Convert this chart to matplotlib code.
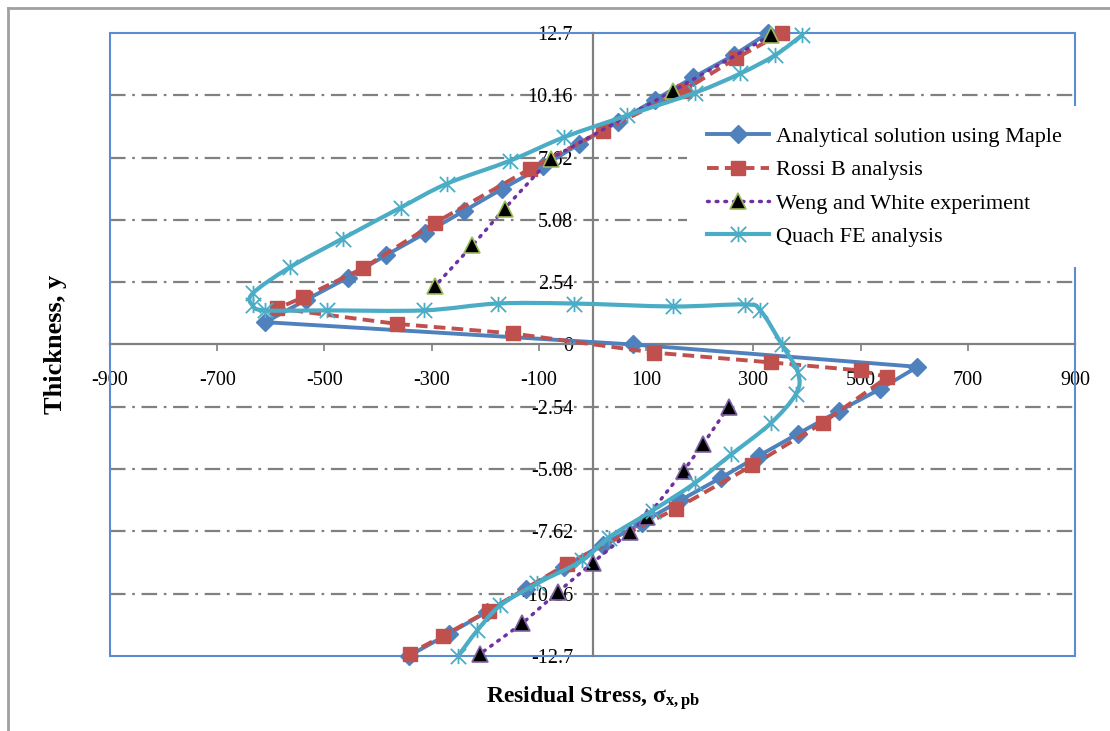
import numpy as np
import matplotlib
matplotlib.use("Agg")
import matplotlib.pyplot as plt
from matplotlib.path import Path
from matplotlib.patches import PathPatch, Rectangle
from matplotlib.lines import Line2D

# ---- data ----
# Analytical solution using Maple
maple_x = [328, 263, 188, 117, 47, -26, -93, -168, -240, -312, -386, -457, -535, -610,
           75, 606, 537, 459, 384, 310, 239, 164, 93, 19, -54, -125, -196, -268, -343]
maple_y = [12.7, 11.79, 10.89, 9.98, 9.07, 8.16, 7.26, 6.35, 5.44, 4.54, 3.63, 2.72, 1.81, 0.91,
           0.0, -0.91, -1.81, -2.72, -3.63, -4.54, -5.44, -6.35, -7.26, -8.16, -9.07, -9.98,
           -10.89, -11.79, -12.7]

# Rossi B analysis
rossi_x = [354, 267, 170, 19, -116, -293, -429, -540, -588, -365, -149, 114, 332, 500, 550,
           429, 298, 155, -47, -194, -278, -341]
rossi_y = [12.7, 11.66, 10.35, 8.72, 7.17, 4.97, 3.1, 1.92, 1.47, 0.84, 0.45, -0.33, -0.73,
           -1.06, -1.33, -3.2, -4.93, -6.7, -8.94, -10.85, -11.87, -12.6]

# Weng and White experiment (upper / lower half)
weng_top_x = [332, 151, -78, -164, -224, -293]
weng_top_y = [12.6, 10.35, 7.58, 5.54, 4.04, 2.4]
weng_bot_x = [254, 207, 170, 101, 69, 0, -65, -131, -209]
weng_bot_y = [-2.53, -4.04, -5.14, -7.05, -7.66, -8.9, -10.1, -11.37, -12.6]

# Quach FE analysis
quach_x = [390, 341, 276, 192, 65, -54, -153, -271, -358, -466, -565, -634, -634, -610,
           -495, -315, -177, -35, 151, 284, 313, 353, 383, 380, 332, 259, 192, 112, 30,
           -19, -103, -172, -215, -250]
quach_y = [12.6, 11.8, 11.05, 10.27, 9.34, 8.44, 7.5, 6.56, 5.58, 4.32, 3.14, 2.08, 1.59,
           1.39, 1.39, 1.39, 1.67, 1.67, 1.55, 1.63, 1.39, 0.0, -1.14, -2.0, -3.22, -4.48,
           -5.63, -6.77, -7.87, -8.8, -9.74, -10.64, -11.66, -12.68]

x_ticks = [-900, -700, -500, -300, -100, 100, 300, 500, 700, 900]
y_ticks = [-12.7, -10.16, -7.62, -5.08, -2.54, 0, 2.54, 5.08, 7.62, 10.16, 12.7]
y_tick_labels = ["-12.7", "-10.16", "-7.62", "-5.08", "-2.54", "0", "2.54", "5.08",
                 "7.62", "10.16", "12.7"]

BLUE = "#4F81BD"
RED = "#C0504D"
PURPLE = "#7030A0"
CYAN = "#4BACC6"
GRID = "#808080"

plt.rcParams["font.family"] = ["Liberation Serif", "DejaVu Serif"]
plt.rcParams["mathtext.fontset"] = "custom"
plt.rcParams["mathtext.rm"] = "Liberation Serif"
plt.rcParams["mathtext.it"] = "Liberation Serif"
plt.rcParams["mathtext.bf"] = "Liberation Serif:bold"

# Excel style star marker: vertical bar plus an X
star = Path([(0, -1), (0, 1), (-1, -1), (1, 1), (-1, 1), (1, -1)],
            [Path.MOVETO, Path.LINETO, Path.MOVETO, Path.LINETO, Path.MOVETO, Path.LINETO])


def smooth_path(xs, ys):
    # Catmull-Rom style bezier like Excel's smoothed line
    pts = np.column_stack([xs, ys]).astype(float)
    verts = [pts[0]]
    codes = [Path.MOVETO]
    n = len(pts)
    for i in range(n - 1):
        p0 = pts[i - 1] if i > 0 else pts[i]
        p1 = pts[i]
        p2 = pts[i + 1]
        p3 = pts[i + 2] if i + 2 < n else pts[i + 1]
        c1 = p1 + (p2 - p0) / 6.0
        c2 = p2 - (p3 - p1) / 6.0
        verts += [c1, c2, p2]
        codes += [Path.CURVE4] * 3
    return Path(verts, codes)


fig = plt.figure(figsize=(11.1, 7.31), dpi=100)
ax = fig.add_axes([0.0991, 0.1026, 0.8694, 0.8523])
ax.set_xlim(-900, 900)
ax.set_ylim(-12.7, 12.7)

# outer chart border (left and top visible)
fig.add_artist(Line2D([0.0072, 0.0072], [0, 0.989], transform=fig.transFigure,
                      color="#A0A0A0", lw=2))
fig.add_artist(Line2D([0.0072, 1.0], [0.989, 0.989], transform=fig.transFigure,
                      color="#A0A0A0", lw=2))

# gridlines
for yv in [-10.16, -7.62, -5.08, -2.54, 2.54, 5.08, 7.62, 10.16]:
    ax.axhline(yv, color=GRID, lw=1.6, ls=(0, (7, 3, 1.2, 3)), zorder=1)

# spines through the origin
for s in ["top", "right"]:
    ax.spines[s].set_visible(False)
ax.spines["left"].set_position("zero")
ax.spines["bottom"].set_position("zero")
ax.spines["left"].set_color("#808080")
ax.spines["bottom"].set_color("#808080")
ax.spines["left"].set_linewidth(1.6)
ax.spines["bottom"].set_linewidth(1.6)
ax.add_patch(Rectangle((0, 0), 1, 1, transform=ax.transAxes, fill=False,
                       edgecolor="#5B8BD0", lw=1.5, zorder=2, clip_on=False))

ax.set_xticks(x_ticks)
ax.set_xticklabels([str(v) for v in x_ticks])
ax.set_yticks(y_ticks)
ax.set_yticklabels(y_tick_labels)
ax.tick_params(axis="x", direction="out", length=5, width=1.2, color="#808080",
               labelsize=14.5, pad=14)
ax.tick_params(axis="y", direction="out", length=5, width=1.2, color="#808080",
               labelsize=14.5, pad=9)
for lab in ax.get_yticklabels():
    lab.set_verticalalignment("center_baseline")

# series
ax.plot(maple_x, maple_y, color=BLUE, lw=2.8, marker="D", ms=9, mfc=BLUE, mec=BLUE,
        zorder=5, clip_on=False)
ax.plot(rossi_x, rossi_y, color=RED, lw=2.8, ls=(0, (3, 1.6)), marker="s", ms=10,
        mfc=RED, mec=RED, zorder=6, clip_on=False)
ax.plot(weng_top_x, weng_top_y, color=PURPLE, lw=2.5, ls=(0, (0.5, 2)),
        dash_capstyle="round", zorder=7)
ax.plot(weng_bot_x, weng_bot_y, color=PURPLE, lw=2.5, ls=(0, (0.5, 2)),
        dash_capstyle="round", zorder=7)
ax.plot(weng_top_x, weng_top_y, ls="none", marker="^", ms=12, mfc="black",
        mec="#9BBB59", mew=1.2, zorder=8, clip_on=False)
ax.plot(weng_bot_x, weng_bot_y, ls="none", marker="^", ms=12, mfc="black",
        mec="#8064A2", mew=1.2, zorder=8, clip_on=False)
ax.add_patch(PathPatch(smooth_path(quach_x, quach_y), fill=False, edgecolor=CYAN,
                       lw=3, zorder=9, clip_on=False))
ax.plot(quach_x, quach_y, ls="none", marker=star, ms=11, mfc="none", mec=CYAN,
        mew=1.3, zorder=9, clip_on=False)

# legend
handles = [
    Line2D([], [], color=BLUE, lw=2.8, marker="D", ms=9),
    Line2D([], [], color=RED, lw=2.8, ls=(0, (3, 1.6)), marker="s", ms=10),
    Line2D([], [], color=PURPLE, lw=2.5, ls=(0, (0.5, 2)), dash_capstyle="round",
           marker="^", ms=12, mfc="black", mec="#9BBB59", mew=1.2),
    Line2D([], [], color=CYAN, lw=3, marker=star, ms=11, mfc="none", mec=CYAN, mew=1.3),
]
labels = ["Analytical solution using Maple", "Rossi B analysis",
          "Weng and White experiment", "Quach FE analysis"]
leg = ax.legend(handles, labels, loc="upper left", bbox_to_anchor=(0.586, 0.9),
                frameon=True, fancybox=False, edgecolor="none", facecolor="white",
                framealpha=1, fontsize=16, handlelength=2.8, handletextpad=0.3,
                labelspacing=0.58, borderpad=0.9)
leg.set_zorder(4)

ax.set_xlabel("Residual Stress, $\\mathbf{σ_{x,pb}}$", fontsize=17,
              fontweight="bold")
ax.xaxis.set_label_coords(0.5, -0.045)
ax.set_ylabel("Thickness, y", fontsize=19, fontweight="bold")
ax.yaxis.set_label_coords(-0.045, 0.5)

fig.savefig("out.png", dpi=100)
